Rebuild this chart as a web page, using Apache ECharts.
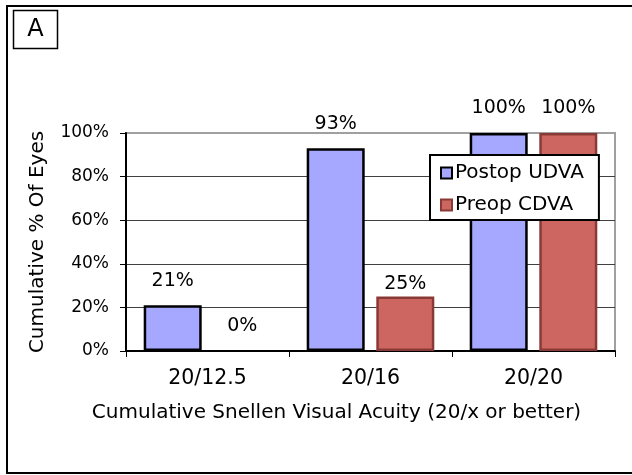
<!DOCTYPE html>
<html>
<head>
<meta charset="utf-8">
<script src="https://cdn.jsdelivr.net/npm/echarts@6/dist/echarts.min.js"></script>
<style>
  html, body { margin: 0; padding: 0; background: #fff; }
  #chart { width: 632px; height: 475px; }
</style>
</head>
<body>
<div id="chart"></div>
<script>
var categories = ['20/12.5', '20/16', '20/20'];
var postopUdva = [21, 93, 100];
var preopCdva = [0, 25, 100];
var seriesNames = ['Postop UDVA', 'Preop CDVA'];
var yTicks = [0, 20, 40, 60, 80, 100];

var FONT = '"DejaVu Sans", Verdana, sans-serif';

var chart = echarts.init(document.getElementById('chart'));

// zero bars get no outline; the 25% label sits lower than the others in the original
function barData(vals, lowIdx) {
    return vals.map(function (v, i) {
        var item = { value: v };
        if (v === 0) item.itemStyle = { borderWidth: 0 };
        if (i === lowIdx) item.label = { distance: 3 };
        return item;
    });
}

var option = {
    animation: false,
    textStyle: { fontFamily: FONT, color: '#000' },
    graphic: [
        {
            type: 'rect',
            shape: { x: 7, y: 6, width: 640, height: 467 },
            style: { fill: null, stroke: '#000', lineWidth: 2 },
            silent: true
        },
        {
            type: 'rect',
            shape: { x: 13.5, y: 10.5, width: 44, height: 38 },
            style: { fill: '#fff', stroke: '#000', lineWidth: 1.5 }
        },
        {
            type: 'text',
            x: 35.5, y: 30,
            style: {
                text: 'A', fontSize: 24, fontFamily: FONT, fill: '#000',
                align: 'center', verticalAlign: 'middle'
            }
        }
    ],
    legend: {
        orient: 'vertical',
        left: 430,
        top: 155,
        data: seriesNames,
        backgroundColor: '#fff',
        borderColor: '#000',
        borderWidth: 2,
        padding: [8, 15, 5, 10],
        itemWidth: 11,
        itemHeight: 11,
        itemGap: 12,
        icon: 'rect',
        textStyle: { fontFamily: FONT, fontSize: 20, color: '#000', padding: [0, 0, 0, -2] }
    },
    grid: {
        left: 126,
        right: 17,
        top: 133,
        bottom: 124,
        show: true,
        borderColor: '#a0a0a0',
        borderWidth: 2,
        backgroundColor: 'transparent'
    },
    xAxis: {
        type: 'category',
        data: categories,
        name: 'Cumulative Snellen Visual Acuity (20/x or better)',
        nameLocation: 'middle',
        nameGap: 52,
        nameTextStyle: { fontFamily: FONT, fontSize: 20, color: '#000', padding: [0, 68, 0, 0] },
        axisLine: { lineStyle: { color: '#000', width: 2 } },
        axisTick: { show: true, alignWithLabel: false, length: 6, lineStyle: { color: '#000', width: 1 } },
        axisLabel: { fontFamily: FONT, fontSize: 20.5, color: '#000', margin: 17 },
        splitLine: { show: false }
    },
    yAxis: {
        type: 'value',
        min: yTicks[0],
        max: yTicks[yTicks.length - 1],
        interval: 20,
        name: 'Cumulative % Of Eyes',
        nameLocation: 'middle',
        nameGap: 78,
        nameTextStyle: { fontFamily: FONT, fontSize: 20, color: '#000' },
        axisLine: { show: true, lineStyle: { color: '#000', width: 2 } },
        axisTick: { show: true, length: 6, lineStyle: { color: '#000', width: 1 } },
        axisLabel: { fontFamily: FONT, fontSize: 17, color: '#000', margin: 17, formatter: '{value}%' },
        splitLine: { show: true, showMaxLine: false, lineStyle: { color: '#404040', width: 1 } }
    },
    series: [
        {
            name: seriesNames[0],
            type: 'bar',
            data: barData(postopUdva, -1),
            barWidth: 58,
            barGap: '20%',
            itemStyle: { color: '#a6a8ff', borderColor: '#000', borderWidth: 2.5 },
            label: {
                show: true, position: 'top', distance: 15, formatter: '{c}%',
                fontFamily: FONT, fontSize: 19, color: '#000'
            }
        },
        {
            name: seriesNames[1],
            type: 'bar',
            data: barData(preopCdva, 1),
            barWidth: 58,
            barGap: '20%',
            itemStyle: { color: '#cd6660', borderColor: '#8a3a36', borderWidth: 2.5 },
            label: {
                show: true, position: 'top', distance: 15, formatter: '{c}%',
                fontFamily: FONT, fontSize: 19, color: '#000'
            }
        }
    ]
};

chart.setOption(option);
</script>
</body>
</html>
